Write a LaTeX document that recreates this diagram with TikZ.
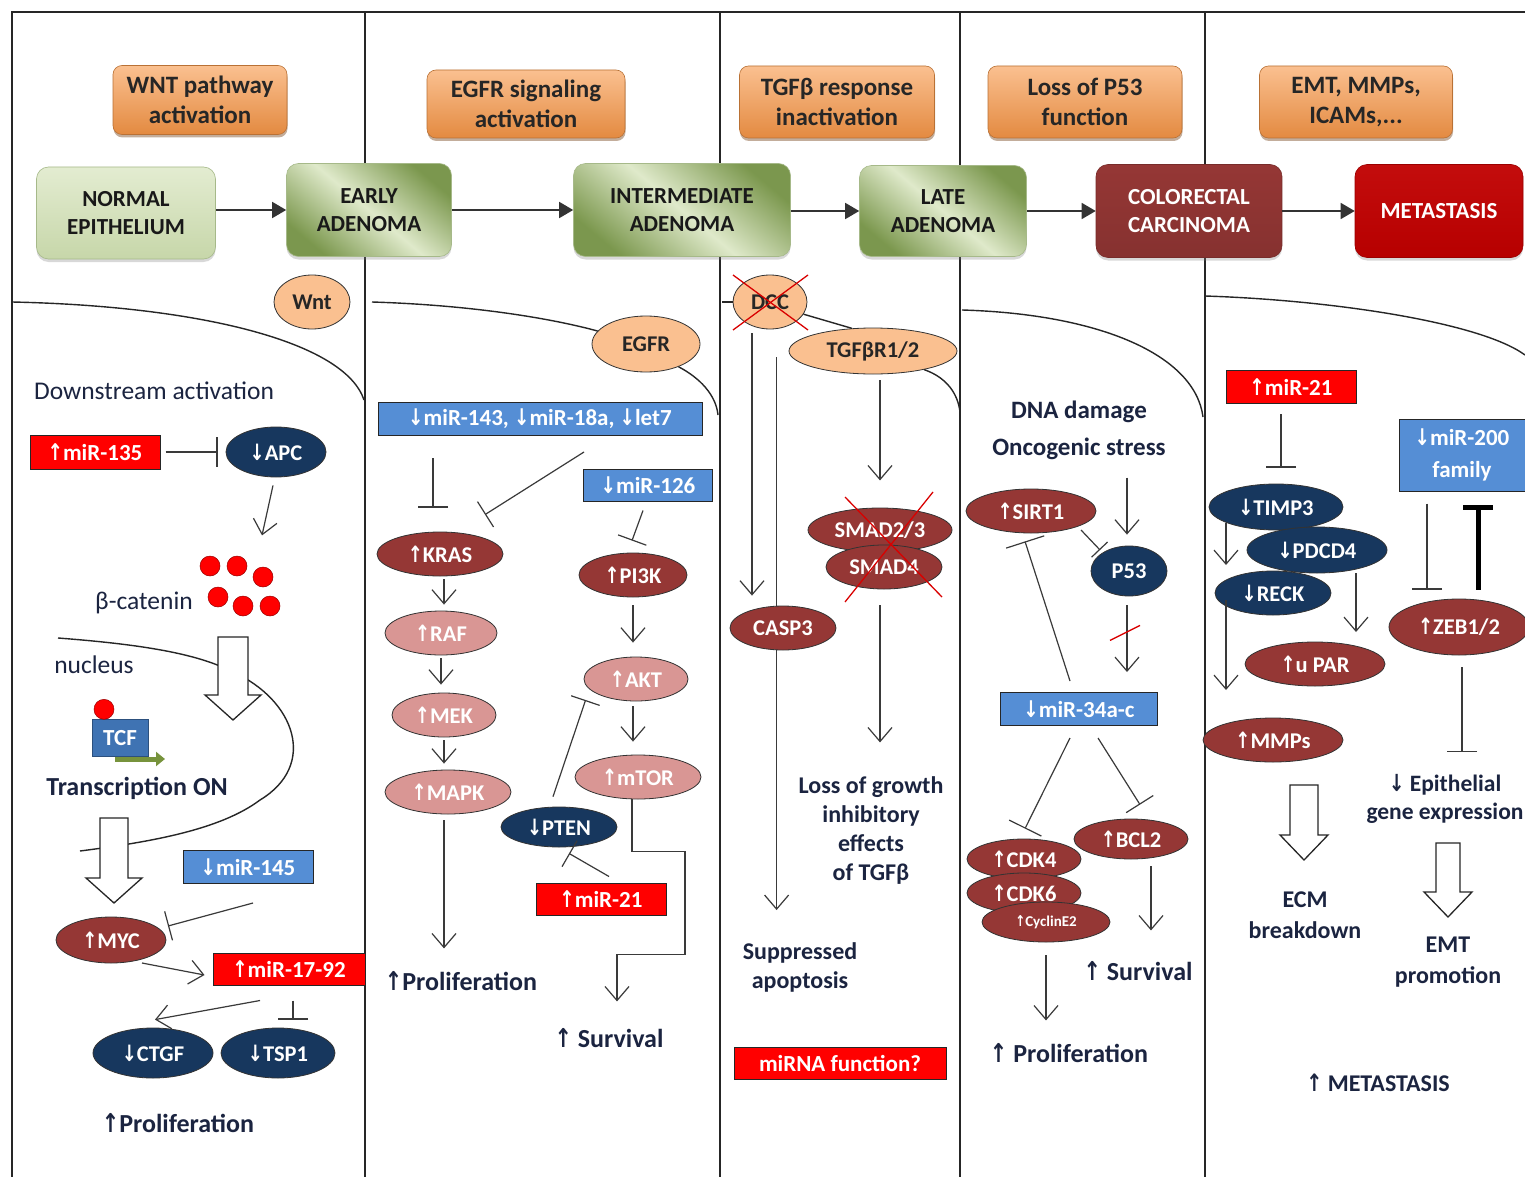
\documentclass[tikz,border=0pt]{standalone}
\usepackage{fontspec}
\usepackage{graphicx}
\setmainfont{Carlito}
\newfontfamily\arrfont{DejaVu Sans}
\usetikzlibrary{shapes.geometric,arrows.meta,calc,shadows}
\newcommand\myup{{\arrfont\bfseries\scalebox{0.8}[1]{↑}}}
\newcommand\mydn{{\arrfont\bfseries\scalebox{0.8}[1]{↓}}}
\newcommand\fsz[2]{\fontsize{#1}{#2}\selectfont}
\definecolor{dred}{HTML}{953735}
\definecolor{pinkc}{HTML}{D99694}
\definecolor{navy}{HTML}{17375E}
\definecolor{lorange}{HTML}{FAC090}
\definecolor{orng}{HTML}{F79646}
\definecolor{blu}{HTML}{558ED5}
\definecolor{rd}{HTML}{FF0000}
\definecolor{txt}{HTML}{1B2440}
\definecolor{lineg}{HTML}{3A3A3A}
\definecolor{gl}{HTML}{D7E4BD}
\definecolor{gd}{HTML}{6B8A3A}
\definecolor{metred}{HTML}{C00000}
\definecolor{grn}{HTML}{77933C}
\definecolor{tcfblue}{HTML}{3F73B3}
\newcommand\hollowar[5]{%
  \draw[draw=black!85, fill=white, line width=1.3pt] (#1-#4,#2) -- (#1+#4,#2) -- (#1+#4,#3-25) -- (#1+#5,#3-25) -- (#1,#3) -- (#1-#5,#3-25) -- (#1-#4,#3-25) -- cycle;}
\begin{document}
\begin{tikzpicture}[x=1pt,y=-1pt,
  frame/.style={draw=black!85,line width=1.6pt},
  membr/.style={draw=black!85,line width=1.4pt},
  obox/.style={rectangle, rounded corners=9pt, draw=orng!75!black, line width=0.6pt,
     top color=orng!60!white, bottom color=orng!92!black, align=center,
     font=\bfseries\fsz{25}{30}, text=black!85,
     drop shadow={shadow xshift=0.5pt, shadow yshift=-3pt, opacity=0.45, fill=orng!50!black}},
  sbox/.style={rectangle, rounded corners=12pt, draw=gd!60, line width=0.6pt, align=center,
     font=\bfseries\fsz{23}{28}, text=black!90,
     drop shadow={shadow xshift=0pt, shadow yshift=-3pt, opacity=0.3}},
  gshade/.style={top color=gd!85!gl, bottom color=gd!85!gl, middle color=gl!80!white, shading angle=-40},
  ell/.style={ellipse, draw=black!80, line width=0.8pt, inner sep=0pt,
     font=\bfseries\fsz{22.5}{26}, text=white},
  dr/.style={ell, fill=dred},
  pk/.style={ell, fill=pinkc},
  nv/.style={ell, fill=navy},
  og/.style={ell, fill=lorange, text=black!85},
  mbox/.style={rectangle, draw=black!85, line width=1pt, inner sep=0pt,
     font=\bfseries\fsz{23}{27}, text=white, align=center},
  rlbl/.style={inner sep=0pt, font=\fsz{25.5}{30}, text=txt, align=center},
  blbl/.style={inner sep=0pt, font=\bfseries\fsz{26}{31}, text=txt, align=center},
  blbl2/.style={inner sep=0pt, font=\bfseries\fsz{24}{29}, text=txt, align=center},
  act/.style={draw=lineg, line width=1.2pt, -{Straight Barb[length=14pt,width=24pt,line width=1.2pt]}},
  inh/.style={draw=lineg, line width=1.2pt, -{Bar[width=30pt,line width=1.2pt]}},
  stg/.style={draw=black!80, line width=1.6pt, -{Triangle[length=14pt,width=16pt]}},
  xred/.style={draw=red!85!black, line width=1.3pt}
]
\useasboundingbox (0,0) rectangle (1525,1177);
\fill[white] (0,0) rectangle (1525,1177);

% frame and column dividers
\draw[frame] (12,1177) -- (12,12) -- (1525,12);
\foreach \xx in {365,720,960,1205} \draw[frame] (\xx,12) -- (\xx,1177);

% top orange boxes
\node[obox, minimum width=174, minimum height=69] (o1) at (200,100) {WNT pathway\\activation};
\node[obox, minimum width=198, minimum height=68] (o2) at (526,104) {EGFR signaling\\activation};
\node[obox, minimum width=195, minimum height=72] (o3) at (837,102) {TGFβ response\\inactivation};
\node[obox, minimum width=194, minimum height=72] (o4) at (1085,102) {Loss of P53\\function};
\node[obox, minimum width=193, minimum height=72] (o5) at (1356,102) {EMT, MMPs,\\ICAMs,...};

% stage boxes
\node[sbox, top color=gl!70!white, bottom color=gl!85!gd, minimum width=179, minimum height=92] (normal) at (126,213) {NORMAL\\EPITHELIUM};
\node[sbox, gshade, minimum width=165, minimum height=93] (early) at (369,210) {EARLY\\ADENOMA};
\node[sbox, gshade, minimum width=217, minimum height=93] (inter) at (682,210) {INTERMEDIATE\\ADENOMA};
\node[sbox, gshade, minimum width=167, minimum height=91] (late) at (943,211) {LATE\\ADENOMA};
\node[sbox, draw=dred!80!black, top color=dred, middle color=dred!85!white, bottom color=dred!90!black, text=white, minimum width=186, minimum height=93] (carc) at (1189,211) {COLORECTAL\\CARCINOMA};
\node[sbox, draw=metred!80!black, top color=metred!95!white, bottom color=metred!95!black, text=white, minimum width=168, minimum height=93] (meta) at (1439,211) {METASTASIS};

\draw[stg] (normal.east |- early.west) -- (early.west);
\draw[stg] (early.east) -- (inter.west);
\draw[stg] (inter.east |- late.west) -- (late.west);
\draw[stg] (late.east |- carc.west) -- (carc.west);
\draw[stg] (carc.east) -- (meta.west);

% ================= column 1 : WNT
\node[og, minimum width=76, minimum height=54] (wnt) at (312,302) {Wnt};
\draw[membr] (12,302) .. controls (200,306) and (345,342) .. (364,400);
\node[rlbl] (downst) at (154,391) {Downstream activation};
\node[mbox, fill=rd, minimum width=130, minimum height=34] (m135) at (95,452) {\myup miR-135};
\node[nv, minimum width=100, minimum height=50] (apc) at (276,452) {\mydn APC};
\draw[inh] ($(m135.east)+(5,0)$) -- ($(apc.west)+(-8,0)$);
\draw[act] ($(apc.south)+(-3,8)$) -- ($(apc.south)+(-14,58)$);
\node[rlbl] (bcat) at (144,603) {β-catenin};
\foreach \p in {(210,566),(237,566),(263,577),(218,597),(243,606),(270,606)}
  \fill[rd, draw=red!60!black, line width=0.5pt] \p circle[radius=10pt];
\node[rlbl] (nucl) at (94,665) {nucleus};
\draw[membr] (58,638) .. controls (150,645) and (200,655) .. (233,672)
   .. controls (295,700) and (318,765) .. (260,800)
   .. controls (220,830) and (150,842) .. (80,851);
\hollowar{233}{637}{720}{15}{28}
\draw[line width=5pt, color=grn, -{Triangle[length=9pt,width=14pt]}] (115,759) -- (165,759);
\node[rectangle, fill=tcfblue, draw=tcfblue!70!black, inner sep=0pt, minimum width=56, minimum height=37,
      font=\bfseries\fsz{23}{26}, text=white] (tcf) at (120,738) {TCF};
\fill[rd, draw=red!60!black, line width=0.5pt] ($(tcf.north)+(-16,-10)$) circle[radius=10pt];
\node[blbl] (trans) at (137,788) {Transcription ON};
\hollowar{114}{818}{903}{14}{28}
\node[mbox, fill=blu, minimum width=130, minimum height=33] (m145) at (248,867) {\mydn miR-145};
\node[dr, minimum width=110, minimum height=46] (myc) at (111,940) {\myup MYC};
\draw[inh] ($(m145.south)+(5,19)$) -- ($(myc)+(57,-14)$);
\node[mbox, fill=rd, minimum width=152, minimum height=32] (m1792) at (289,969) {\myup miR-17-92};
\draw[act] ($(myc)+(31,23)$) -- ($(m1792.west)+(-8,6)$);
\node[nv, minimum width=120, minimum height=50] (ctgf) at (153,1053) {\mydn CTGF};
\node[nv, minimum width=114, minimum height=50] (tsp1) at (278,1053) {\mydn TSP1};
\draw[act] ($(m1792.south)+(-29,15)$) -- ($(ctgf.north)+(2,-8)$);
\draw[inh] ($(m1792.south)+(4,15)$) -- ($(tsp1.north)+(15,-8)$);
\node[blbl] (prol1) at (178,1123) {\myup Proliferation};

% ================= column 2 : EGFR
\node[og, minimum width=108, minimum height=56] (egfr) at (646,344) {EGFR};
\draw[membr] (372,302) .. controls (470,305) and (550,318) .. (egfr.165);
\draw[membr] (egfr.-35) .. controls (700,378) and (716,395) .. (718,415);
\node[mbox, fill=blu, minimum width=324, minimum height=33] (m143) at (540,419) {\mydn miR-143, \mydn miR-18a, \mydn let7};
\node[mbox, fill=blu, minimum width=129, minimum height=32] (m126) at (648,485) {\mydn miR-126};
\node[dr, minimum width=126, minimum height=44] (kras) at (440,554) {\myup KRAS};
\node[pk, minimum width=112, minimum height=44] (raf) at (441,633) {\myup RAF};
\node[pk, minimum width=104, minimum height=44] (mek) at (444,715) {\myup MEK};
\node[pk, minimum width=126, minimum height=44] (mapk) at (448,792) {\myup MAPK};
\draw[inh] ($(m143.south)+(-107,22)$) -- ($(kras.north)+(-7,-24)$);
\draw[inh] ($(m143.south)+(44,16)$) -- ($(kras.north)+(45,-17)$);
\draw[act] ($(kras.south)+(4,3)$) -- ($(raf.north)+(3,-6)$);
\draw[act] ($(raf.south)+(0,3)$) -- ($(mek.north)+(-3,-8)$);
\draw[act] ($(mek.south)+(0,3)$) -- ($(mapk.north)+(-4,-6)$);
\draw[act] ($(mapk.south)+(-4,6)$) -- ($(mapk.south)+(-4,134)$);
\node[blbl] (prol2) at (461,981) {\myup Proliferation};
\node[dr, minimum width=108, minimum height=44] (pi3k) at (633,575) {\myup PI3K};
\node[pk, minimum width=104, minimum height=44] (akt) at (636,679) {\myup AKT};
\node[pk, minimum width=126, minimum height=44] (mtor) at (638,777) {\myup mTOR};
\node[nv, minimum width=116, minimum height=40] (pten) at (559,827) {\mydn PTEN};
\node[mbox, fill=rd, minimum width=130, minimum height=32] (m21a) at (601,899) {\myup miR-21};
\draw[inh] ($(m126.south)+(-5,9)$) -- ($(pi3k.north)+(-1,-12)$);
\draw[act] ($(pi3k.south)+(0,8)$) -- ($(akt.north)+(-3,-14)$);
\draw[act] ($(akt.south)+(-3,5)$) -- ($(mtor.north)+(-5,-13)$);
\draw[inh] ($(pten.north)+(-6,-10)$) -- ($(akt.west)+(2,21)$);
\draw[inh] ($(m21a.north)+(8,-6)$) -- ($(pten.south)+(10,6)$);
\draw[act] ($(mtor.south)+(-6,0)$) -- ++(0,52) -- ++(53,0) -- ++(0,103) -- ++(-68,0) -- ++(0,47);
\node[blbl] (surv1) at (609,1038) {\myup\ Survival};

% ================= column 3 : TGFb
\node[og, minimum width=74, minimum height=54] (dcc) at (770,302) {DCC};
\node[og, minimum width=168, minimum height=46] (tgfr) at (873,351) {TGFβR1/2};
\draw[membr] (722,302) -- (dcc.west);
\draw[membr] (dcc.-20) -- (tgfr.133);
\draw[membr] (tgfr.-20) .. controls (948,378) and (958,395) .. (960,412);
\draw[xred] ($(dcc)+(-37,-27)$) -- ($(dcc)+(38,28)$);
\draw[xred] ($(dcc)+(38,-27)$) -- ($(dcc)+(-37,28)$);
\draw[act] ($(tgfr.west)+(-12,6)$) -- ($(tgfr.west)+(-12,559)$);
\node[dr, minimum width=106, minimum height=44] (casp3) at (783,628) {CASP3};
\draw[act] ($(dcc.south)+(-18,4)$) -- ($(casp3.north)+(-31,-10)$);
\draw[act] ($(tgfr.south)+(7,6)$) -- ($(tgfr.south)+(7,106)$);
\node[dr, minimum width=144, minimum height=44] (smad23) at (880,530) {SMAD2/3};
\node[dr, minimum width=116, minimum height=44] (smad4) at (884,567) {SMAD4};
\draw[xred] ($(smad23)+(-35,-33)$) -- ($(smad4)+(58,30)$);
\draw[xred] ($(smad23)+(53,-38)$) -- ($(smad4)+(-39,35)$);
\draw[act] ($(smad4.south)+(-4,16)$) -- ($(smad4.south)+(-4,153)$);
\node[blbl2] (loss) at (871,831) {Loss of growth\\inhibitory\\effects\\of TGFβ};
\node[blbl2] (supp) at (800,967) {Suppressed\\apoptosis};
\node[mbox, fill=rd, minimum width=212, minimum height=32] (mfun) at (840,1063) {miRNA function?};

% ================= column 4 : P53
\draw[membr] (962,310) .. controls (1100,314) and (1195,355) .. (1203,417);
\node[blbl, font=\bfseries\fsz{25}{37}] (dna) at (1079,430) {DNA damage\\Oncogenic stress};
\node[dr, minimum width=130, minimum height=44] (sirt1) at (1031,511) {\myup SIRT1};
\node[nv, minimum width=76, minimum height=50] (p53) at (1129,571) {P53};
\node[mbox, fill=blu, minimum width=157, minimum height=33] (m34) at (1079,709) {\mydn miR-34a-c};
\draw[act] ($(p53.north)+(-2,-68)$) -- ($(p53.north)+(-2,-11)$);
\draw[inh, -{Bar[width=22pt,line width=1.2pt]}] ($(sirt1)+(50,19)$) -- ($(p53)+(-29,-21)$);
\draw[act] ($(p53.south)+(-2,9)$) -- ($(m34.north)+(48,-20)$);
\draw[xred] ($(p53.south)+(-19,44)$) -- ($(p53.south)+(11,29)$);
\draw[inh, -{Bar[width=40pt,line width=1.2pt]}] ($(m34.north)+(-9,-11)$) -- ($(sirt1.south)+(-6,8)$);
\node[dr, minimum width=114, minimum height=40] (cdk4) at (1024,859) {\myup CDK4};
\node[dr, minimum width=114, minimum height=40] (cdk6) at (1024,893) {\myup CDK6};
\node[dr, minimum width=128, minimum height=40, font=\bfseries\fsz{15}{18}] (cyc) at (1046,922) {\myup CyclinE2};
\node[dr, minimum width=114, minimum height=40] (bcl2) at (1131,839) {\myup BCL2};
\draw[inh, -{Bar[width=36pt,line width=1.2pt]}] ($(m34.south)+(-9,12)$) -- ($(cdk4.north)+(1,-10)$);
\draw[inh, -{Bar[width=32pt,line width=1.2pt]}] ($(m34.south)+(19,12)$) -- ($(bcl2.north)+(9,-14)$);
\draw[act] ($(bcl2.south)+(20,7)$) -- ($(bcl2.south)+(20,71)$);
\node[blbl] (surv2) at (1138,971) {\myup\ Survival};
\draw[act] ($(cyc.south)+(0,13)$) -- ($(cyc.south)+(0,78)$);
\node[blbl] (prol3) at (1069,1053) {\myup\ Proliferation};

% ================= column 5 : EMT
\draw[membr] (1205,296) .. controls (1330,300) and (1480,322) .. (1525,355);
\node[mbox, fill=rd, minimum width=130, minimum height=33] (m21b) at (1291,387) {\myup miR-21};
\node[nv, minimum width=134, minimum height=46] (timp3) at (1276,507) {\mydn TIMP3};
\node[nv, minimum width=140, minimum height=46] (pdcd4) at (1317,550) {\mydn PDCD4};
\node[nv, minimum width=116, minimum height=44] (reck) at (1273,593) {\mydn RECK};
\draw[inh] ($(m21b.south)+(-10,10)$) -- ($(timp3.north)+(5,-16)$);
\draw[act] ($(timp3)+(-50,16)$) -- ($(timp3)+(-50,58)$);
\draw[act] ($(pdcd4)+(39,23)$) -- ($(pdcd4)+(39,82)$);
\node[dr, minimum width=140, minimum height=44] (upar) at (1315,664) {\myup u PAR};
\draw[act] ($(reck)+(-47,7)$) -- ($(reck)+(-47,97)$);
\node[dr, minimum width=140, minimum height=44] (mmps) at (1273,740) {\myup MMPs};
\hollowar{1304}{785}{860}{14}{24}
\node[blbl2, font=\bfseries\fsz{24}{31}] (ecm) at (1305,915) {ECM\\breakdown};
\node[mbox, fill=blu, minimum width=126, minimum height=72, font=\bfseries\fsz{23}{32}] (m200) at (1462,455) {\mydn miR-200\\family};
\node[dr, minimum width=140, minimum height=56] (zeb) at (1459,627) {\myup ZEB1/2};
\draw[inh] ($(m200.south)+(-35,12)$) -- ($(zeb.north)+(-32,-9)$);
\draw[draw=black, line width=5pt, -{Bar[width=30pt,line width=5pt]}] ($(zeb.north)+(19,-9)$) -- ($(m200.south)+(16,13)$);
\draw[inh] ($(zeb.south)+(3,12)$) -- ($(zeb.south)+(3,97)$);
\node[blbl2, font=\bfseries\fsz{23.5}{28}] (epi) at (1445,799) {\mydn\ Epithelial\\gene expression};
\hollowar{1448}{843}{917}{12}{24}
\node[blbl2, font=\bfseries\fsz{24}{31}] (emt) at (1448,962) {EMT\\promotion};
\node[blbl2] (metx) at (1378,1083) {\myup\ METASTASIS};
\end{tikzpicture}
\end{document}
